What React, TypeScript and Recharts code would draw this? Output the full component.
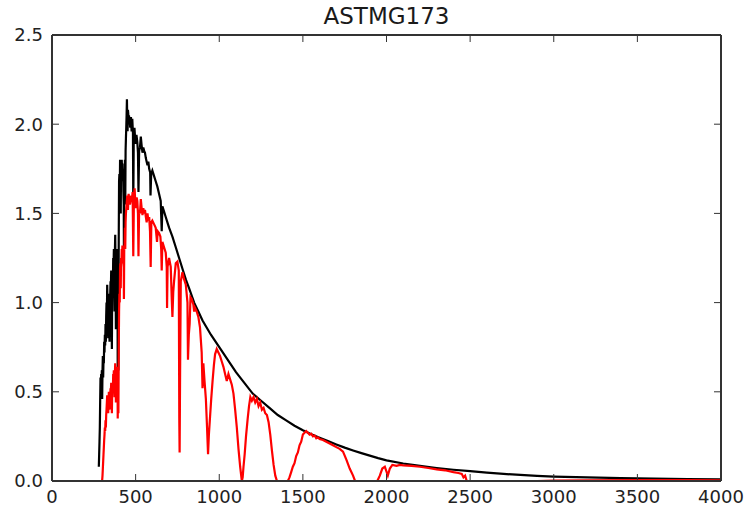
import { LineChart, Line, XAxis, YAxis } from "recharts";

// ASTM G173 reference spectra, irradiance in W/m²/nm against wavelength in nm
const etrWavelength = [
  280, 282, 284, 286, 288, 290, 292, 294, 296, 298,
  300, 302, 304, 306, 308, 310, 312, 314, 316, 318,
  320, 322, 324, 326, 328, 330, 332, 334, 336, 338,
  340, 342, 344, 346, 348, 350, 352, 354, 356, 358,
  360, 362, 364, 366, 368, 370, 372, 374, 376, 378,
  380, 382, 384, 386, 388, 390, 392, 393, 395, 397,
  399, 401, 403, 405, 407, 409, 411, 413, 415, 417,
  419, 421, 423, 425, 427, 429, 430, 432, 434, 436,
  438, 440, 442, 444, 446, 448, 450, 452, 454, 456,
  458, 460, 464, 468, 472, 476, 480, 484, 486, 489,
  493, 497, 501, 505, 510, 514, 517, 521, 526, 531,
  536, 541, 546, 551, 556, 561, 566, 571, 576, 581,
  587, 589, 593, 600, 610, 620, 630, 640, 650, 656,
  660, 670, 680, 690, 700, 720, 740, 760, 780, 800,
  820, 850, 875, 900, 950, 1000, 1050, 1100, 1150, 1200,
  1250, 1300, 1350, 1400, 1450, 1500, 1550, 1600, 1650, 1700,
  1750, 1800, 1850, 1900, 1950, 2000, 2100, 2200, 2300, 2400,
  2500, 2600, 2700, 2800, 2900, 3000, 3200, 3400, 3600, 3800,
  4000,
];
const etrIrradiance = [
  0.08, 0.15, 0.22, 0.3, 0.45, 0.58, 0.52, 0.6, 0.55, 0.62,
  0.46, 0.62, 0.7, 0.58, 0.68, 0.66, 0.78, 0.72, 0.82, 0.76,
  0.88, 0.78, 0.92, 1.0, 0.9, 1.1, 1.02, 0.92, 0.8, 1.0,
  1.05, 0.9, 0.78, 1.0, 1.04, 1.12, 1.08, 1.18, 1.0, 0.74,
  1.08, 1.15, 1.1, 1.25, 1.2, 1.3, 1.1, 0.95, 1.28, 1.38,
  1.18, 0.85, 1.1, 1.0, 1.2, 1.3, 1.12, 0.55, 1.0, 0.62,
  1.35, 1.68, 1.72, 1.6, 1.8, 1.76, 1.5, 1.78, 1.72, 1.8,
  1.74, 1.78, 1.68, 1.75, 1.62, 1.55, 1.3, 1.72, 1.66, 1.8,
  1.55, 1.85, 1.92, 1.98, 2.05, 2.14, 2.02, 1.96, 2.08, 2.06,
  2.0, 2.05, 2.02, 1.98, 2.04, 1.96, 2.03, 1.95, 1.55, 1.96,
  1.98, 1.92, 1.89, 1.94, 1.9, 1.84, 1.62, 1.85, 1.87, 1.93,
  1.88, 1.84, 1.87, 1.85, 1.84, 1.81, 1.79, 1.77, 1.79, 1.75,
  1.73, 1.6, 1.72, 1.74, 1.71, 1.68, 1.65, 1.61, 1.57, 1.4,
  1.54, 1.51, 1.48, 1.45, 1.42, 1.37, 1.31, 1.25, 1.19, 1.13,
  1.08, 1.0, 0.95, 0.9, 0.82, 0.75, 0.68, 0.61, 0.55, 0.49,
  0.45, 0.41, 0.37, 0.34, 0.31, 0.285, 0.262, 0.243, 0.224, 0.205,
  0.187, 0.171, 0.156, 0.142, 0.128, 0.116, 0.098, 0.085, 0.073, 0.063,
  0.055, 0.047, 0.04, 0.034, 0.029, 0.025, 0.02, 0.016, 0.013, 0.011,
  0.009,
];

const globalWavelength = [
  280, 296, 300, 302, 304, 306, 308, 310, 312, 314,
  316, 318, 320, 322, 324, 326, 328, 330, 332, 334,
  336, 338, 340, 342, 344, 346, 348, 350, 352, 354,
  356, 358, 360, 362, 364, 366, 368, 370, 372, 374,
  376, 378, 380, 382, 384, 386, 388, 390, 392, 393,
  395, 397, 399, 401, 403, 405, 407, 409, 411, 413,
  415, 417, 419, 421, 423, 425, 427, 429, 430, 432,
  434, 436, 438, 440, 442, 446, 450, 454, 458, 462,
  466, 470, 474, 478, 482, 486, 490, 494, 498, 502,
  506, 510, 514, 517, 521, 526, 531, 536, 541, 546,
  551, 556, 561, 566, 571, 576, 581, 586, 590, 594,
  600, 610, 620, 628, 632, 640, 648, 653, 656, 660,
  670, 680, 686, 688, 691, 700, 710, 716, 720, 725,
  730, 740, 750, 758, 761, 763, 766, 770, 780, 790,
  800, 810, 813, 818, 823, 828, 835, 845, 850, 855,
  865, 875, 885, 895, 900, 905, 912, 920, 927, 933,
  938, 945, 952, 960, 968, 975, 985, 995, 1005, 1015,
  1025, 1035, 1045, 1055, 1065, 1075, 1085, 1095, 1105, 1115,
  1125, 1135, 1140, 1145, 1152, 1160, 1170, 1178, 1186, 1195,
  1205, 1215, 1225, 1235, 1245, 1255, 1265, 1275, 1285, 1295,
  1305, 1315, 1325, 1335, 1345, 1410, 1420, 1430, 1440, 1450,
  1460, 1470, 1480, 1490, 1500, 1510, 1520, 1530, 1540, 1550,
  1560, 1570, 1580, 1590, 1600, 1620, 1640, 1660, 1680, 1700,
  1720, 1740, 1760, 1780, 1800, 1812, 1945, 1960, 1975, 1990,
  2008, 2020, 2035, 2060, 2080, 2100, 2150, 2200, 2250, 2300,
  2350, 2400, 2430, 2450, 2460, 2470, 2480, 2900, 3000, 3200,
  3500, 3800, 4000,
];
const globalIrradiance = [
  0, 0, 0.005, 0.03, 0.07, 0.11, 0.15, 0.19, 0.23, 0.26,
  0.3, 0.28, 0.34, 0.3, 0.37, 0.4, 0.44, 0.48, 0.45, 0.42,
  0.38, 0.44, 0.5, 0.45, 0.4, 0.46, 0.48, 0.52, 0.5, 0.55,
  0.47, 0.38, 0.5, 0.54, 0.52, 0.6, 0.58, 0.62, 0.52, 0.47,
  0.6, 0.66, 0.58, 0.44, 0.55, 0.5, 0.6, 0.64, 0.56, 0.35,
  0.55, 0.38, 0.72, 0.95, 1.05, 1.0, 1.2, 1.22, 1.08, 1.25,
  1.22, 1.3, 1.26, 1.32, 1.25, 1.32, 1.22, 1.2, 1.02, 1.32,
  1.3, 1.42, 1.3, 1.45, 1.5, 1.55, 1.6, 1.52, 1.61, 1.58,
  1.55, 1.57, 1.6, 1.58, 1.62, 1.26, 1.6, 1.64, 1.56, 1.53,
  1.59, 1.57, 1.5, 1.26, 1.52, 1.5, 1.58, 1.53, 1.49, 1.53,
  1.5, 1.52, 1.48, 1.45, 1.5, 1.46, 1.48, 1.4, 1.2, 1.45,
  1.46, 1.44, 1.42, 1.34, 1.4, 1.39, 1.37, 1.3, 1.18, 1.34,
  1.31, 1.28, 1.2, 0.97, 1.2, 1.25, 1.2, 1.02, 0.92, 1.06,
  1.12, 1.22, 1.23, 1.18, 0.35, 0.16, 0.62, 1.12, 1.17, 1.13,
  1.1, 1.0, 0.68, 0.82, 0.88, 1.03, 1.02, 0.99, 0.95, 0.97,
  0.95, 0.92, 0.86, 0.72, 0.52, 0.66, 0.56, 0.46, 0.3, 0.15,
  0.26, 0.36, 0.46, 0.56, 0.65, 0.71, 0.74, 0.72, 0.7, 0.67,
  0.64, 0.6, 0.56, 0.6, 0.57, 0.54, 0.49, 0.4, 0.3, 0.18,
  0.08, 0, 0.02, 0.08, 0.15, 0.25, 0.35, 0.42, 0.47, 0.45,
  0.47, 0.44, 0.46, 0.42, 0.44, 0.4, 0.41, 0.38, 0.37, 0.33,
  0.26, 0.17, 0.09, 0.03, 0, 0, 0.02, 0.05, 0.08, 0.1,
  0.14, 0.16, 0.2, 0.22, 0.26, 0.27, 0.28, 0.27, 0.26, 0.265,
  0.25, 0.255, 0.24, 0.245, 0.235, 0.23, 0.22, 0.21, 0.2, 0.19,
  0.18, 0.165, 0.12, 0.07, 0.03, 0, 0, 0.03, 0.07, 0.08,
  0.03, 0.07, 0.09, 0.085, 0.09, 0.088, 0.085, 0.08, 0.073, 0.065,
  0.06, 0.05, 0.045, 0.04, 0.02, 0.03, 0, 0, 0.002, 0.003,
  0.005, 0.005, 0.004,
];

const xTicks = [0, 500, 1000, 1500, 2000, 2500, 3000, 3500, 4000];
const yTicks = [0, 0.5, 1, 1.5, 2, 2.5];

const FONT = "'DejaVu Sans', sans-serif";
const FRAME = "#333";

function toPoints(xs: number[], ys: number[]) {
  const n = Math.min(xs.length, ys.length);
  return xs.slice(0, n).map((x, i) => ({ x, y: ys[i] }));
}

export default function App() {
  const etrData = toPoints(etrWavelength, etrIrradiance);
  const globalData = toPoints(globalWavelength, globalIrradiance);
  const tickStyle = { fill: "#222", fontSize: 18, fontFamily: FONT };
  const frameLine = { stroke: FRAME, strokeWidth: 2 };
  const tickLine = { stroke: FRAME, strokeWidth: 1 };

  return (
    <div
      style={{
        position: "absolute",
        left: 0,
        top: 0,
        width: 746,
        height: 508,
        background: "#fff",
        fontFamily: FONT,
      }}
    >
      <LineChart
        width={746}
        height={508}
        margin={{ top: 34, right: 24, bottom: 2, left: 7 }}
      >
        <XAxis
          dataKey="x"
          type="number"
          domain={[0, 4000]}
          allowDataOverflow
          ticks={xTicks}
          height={25}
          tickSize={-7}
          tickMargin={16}
          tick={tickStyle}
          axisLine={frameLine}
          tickLine={tickLine}
        />
        <XAxis
          xAxisId="top"
          orientation="top"
          dataKey="x"
          type="number"
          domain={[0, 4000]}
          allowDataOverflow
          ticks={xTicks}
          height={1}
          tickSize={-7}
          tickFormatter={() => ""}
          axisLine={frameLine}
          tickLine={tickLine}
        />
        <YAxis
          type="number"
          domain={[0, 2.5]}
          allowDataOverflow
          ticks={yTicks}
          width={45}
          tickSize={-7}
          tickMargin={16}
          tick={tickStyle}
          tickFormatter={(v: number) => v.toFixed(1)}
          axisLine={frameLine}
          tickLine={tickLine}
        />
        <YAxis
          yAxisId="right"
          orientation="right"
          type="number"
          domain={[0, 2.5]}
          allowDataOverflow
          ticks={yTicks}
          width={1}
          tickSize={-7}
          tickFormatter={() => ""}
          axisLine={frameLine}
          tickLine={tickLine}
        />
        <Line
          data={etrData}
          dataKey="y"
          type="linear"
          stroke="#000000"
          strokeWidth={2.2}
          dot={false}
          activeDot={false}
          isAnimationActive={false}
        />
        <Line
          data={globalData}
          dataKey="y"
          type="linear"
          stroke="#ff0000"
          strokeWidth={2.2}
          dot={false}
          activeDot={false}
          isAnimationActive={false}
        />
      </LineChart>
      <div
        style={{
          position: "absolute",
          left: 52,
          width: 669,
          top: 5,
          textAlign: "center",
          fontSize: 23,
          lineHeight: "23px",
          color: "#1a1a1a",
        }}
      >
        ASTMG173
      </div>
    </div>
  );
}
